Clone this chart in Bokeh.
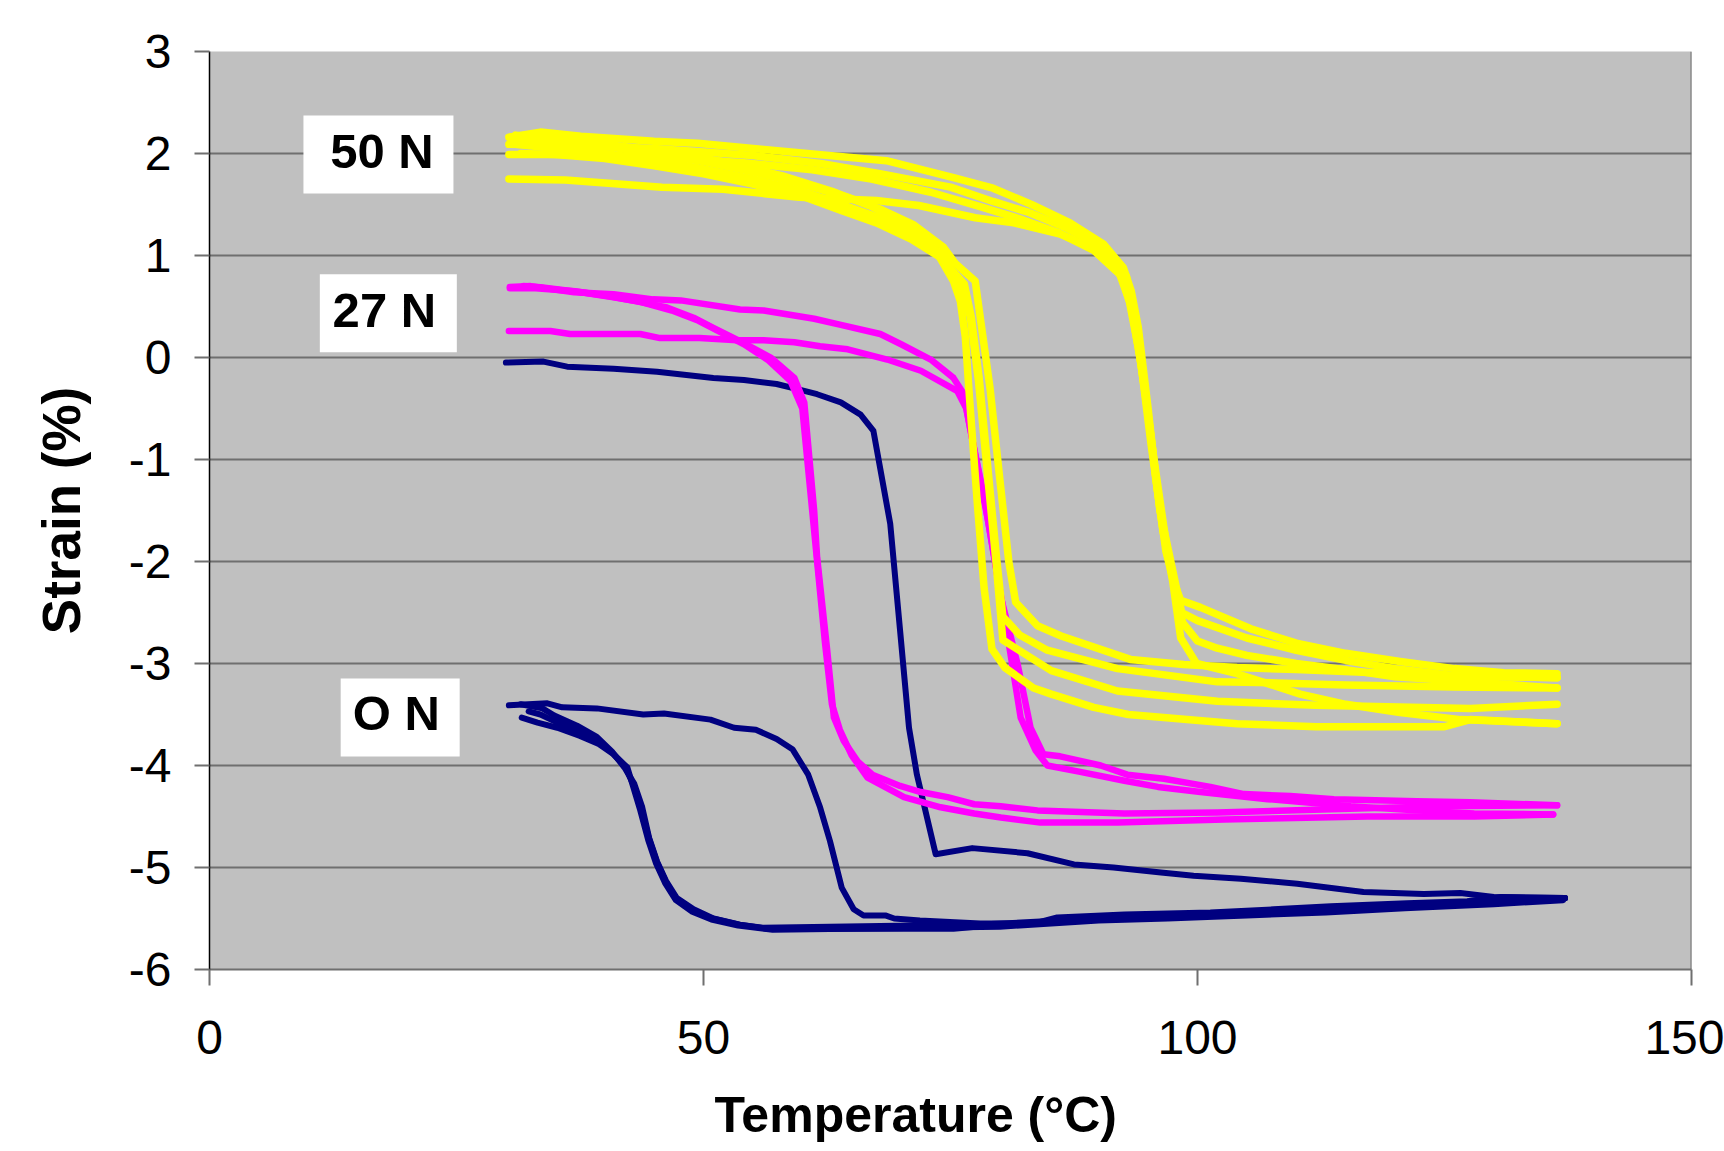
from bokeh.plotting import figure
from bokeh.models import Range1d, FixedTicker, Label, Span
from bokeh.embed import file_html
from bokeh.resources import INLINE

# ---------------- data ----------------
x_ticks = [0, 50, 100, 150]
y_ticks = [-6, -5, -4, -3, -2, -1, 0, 1, 2, 3]
y_tick_text = ["-6", "-5", "-4", "-3", "-2", "-1", "0", "1", "2", "3"]

# 0 N (navy)
n_heat1_t = [30.0, 33.8, 36.2, 40.9, 45.3, 51.0, 54.1, 57.4, 59.5, 61.5, 63.9, 65.9, 67.2, 68.9, 69.9,
             70.8, 71.6, 73.5, 77.2, 82.8, 87.5, 91.5, 96.3, 99.6, 104.4, 110.1, 116.8, 122.9, 126.6, 130.0, 137.2]
n_heat1_s = [-0.05, -0.04, -0.09, -0.11, -0.14, -0.20, -0.22, -0.26, -0.31, -0.36, -0.44, -0.56, -0.72, -1.63, -2.68,
             -3.63, -4.09, -4.87, -4.81, -4.86, -4.97, -5.00, -5.05, -5.08, -5.11, -5.16, -5.24, -5.26, -5.25, -5.29, -5.30]
n_heat2_t = [30.3, 34.2, 35.7, 39.2, 43.9, 46.0, 50.7, 53.1, 55.3, 57.4, 59.0, 60.6, 61.8, 62.8, 64.0,
             65.2, 66.2, 68.4, 69.3, 71.9, 78.0, 83.4, 85.8, 92.6, 101.3, 107.7, 113.5, 121.2, 127.3, 130.7, 137.2]
n_heat2_s = [-3.41, -3.39, -3.43, -3.44, -3.50, -3.49, -3.55, -3.63, -3.65, -3.74, -3.84, -4.09, -4.41, -4.74, -5.20,
             -5.41, -5.47, -5.47, -5.50, -5.52, -5.55, -5.55, -5.49, -5.46, -5.44, -5.41, -5.38, -5.35, -5.33, -5.29, -5.30]
n_cool1_t = [137.2, 130.7, 127.3, 121.2, 113.5, 107.7, 101.3, 92.6, 85.8, 80.1, 75.3, 56.4, 53.7, 51.0,
             49.0, 47.3, 46.2, 45.3, 44.5, 43.8, 43.0, 42.0, 40.8, 39.2, 37.2, 34.9, 33.7, 31.5]
n_cool1_s = [-5.30, -5.33, -5.36, -5.38, -5.42, -5.44, -5.47, -5.50, -5.53, -5.56, -5.60, -5.60, -5.56, -5.50,
             -5.41, -5.30, -5.13, -4.94, -4.71, -4.41, -4.18, -4.02, -3.87, -3.72, -3.61, -3.51, -3.44, -3.40]
n_cool2_t = [137.0, 130.0, 121.0, 113.0, 105.0, 97.0, 90.0, 80.0, 57.0, 53.5, 50.8, 48.8,
             47.2, 46.1, 45.2, 44.4, 43.6, 42.3, 40.9, 39.4, 37.5, 35.2, 33.2, 31.6]
n_cool2_s = [-5.32, -5.36, -5.40, -5.44, -5.47, -5.50, -5.52, -5.58, -5.61, -5.57, -5.51, -5.43,
             -5.32, -5.15, -4.96, -4.73, -4.44, -4.02, -3.89, -3.79, -3.71, -3.63, -3.58, -3.53]
n_cool3_t = [136.8, 128.0, 118.0, 108.0, 98.0, 88.0, 78.0, 56.0, 53.6, 50.9, 48.9, 47.2,
             46.2, 45.3, 44.5, 43.7, 42.9, 42.1, 40.8, 39.3, 37.3, 35.0, 33.5, 32.3]
n_cool3_s = [-5.31, -5.34, -5.38, -5.43, -5.47, -5.51, -5.56, -5.59, -5.56, -5.50, -5.42, -5.31,
             -5.14, -4.95, -4.72, -4.43, -4.19, -4.02, -3.88, -3.76, -3.66, -3.57, -3.50, -3.47]

# 27 N (magenta)
m_heat1_t = [30.4, 32.5, 36.9, 40.9, 44.9, 47.7, 53.7, 56.1, 61.2, 63.9, 67.9, 70.0, 73.0, 75.3, 76.3, 77.2,
             78.4, 80.1, 81.8, 83.1, 84.4, 86.1, 90.2, 92.9, 96.6, 101.3, 104.7, 109.4, 113.8, 122.2, 127.6, 136.4]
m_heat1_s = [0.69, 0.70, 0.64, 0.62, 0.57, 0.56, 0.47, 0.46, 0.38, 0.32, 0.23, 0.13, -0.02, -0.20, -0.35, -0.80,
             -1.37, -2.35, -3.01, -3.63, -3.89, -3.91, -4.00, -4.09, -4.13, -4.21, -4.28, -4.30, -4.33, -4.35, -4.36, -4.39]
m_heat2_t = [30.3, 34.5, 36.5, 43.6, 45.6, 49.6, 53.4, 56.1, 59.2, 61.8, 64.6, 68.6, 72.0, 75.7, 76.6,
             77.6, 78.8, 80.4, 82.1, 83.6, 84.8, 88.0, 92.6, 96.0, 100.3, 107.1, 115.5, 122.0, 128.0, 136.0]
m_heat2_s = [0.26, 0.26, 0.23, 0.23, 0.19, 0.19, 0.17, 0.17, 0.15, 0.11, 0.08, -0.02, -0.13, -0.33, -0.50,
             -1.00, -1.60, -2.50, -3.53, -3.85, -4.00, -4.06, -4.15, -4.21, -4.26, -4.33, -4.40, -4.44, -4.47, -4.48]
m_cool1_t = [136.4, 125.0, 117.2, 102.0, 92.6, 83.8, 80.1, 77.4, 74.7, 72.0, 69.9, 67.1, 65.6, 64.2, 63.2,
             62.5, 61.5, 61.2, 60.2, 59.2, 56.8, 53.7, 51.0, 49.0, 46.3, 43.3, 40.9, 37.6, 33.5, 31.8]
m_cool1_s = [-4.39, -4.40, -4.42, -4.46, -4.47, -4.44, -4.40, -4.38, -4.31, -4.26, -4.20, -4.09, -3.96, -3.76, -3.53,
             -2.85, -1.96, -1.50, -0.44, -0.20, 0.00, 0.16, 0.29, 0.39, 0.49, 0.55, 0.59, 0.64, 0.69, 0.70]
m_cool2_t = [136.0, 128.0, 117.2, 102.7, 91.9, 84.1, 80.1, 77.4, 74.0, 70.3, 66.6, 65.0, 63.8, 63.0, 62.3,
             61.4, 60.9, 60.0, 58.8, 56.6, 54.1, 52.1, 49.5, 46.8, 43.8, 40.5, 37.0, 33.0, 30.4]
m_cool2_s = [-4.48, -4.50, -4.50, -4.53, -4.56, -4.56, -4.51, -4.47, -4.41, -4.31, -4.12, -3.90, -3.65, -3.40, -2.80,
             -1.90, -1.40, -0.50, -0.23, -0.03, 0.13, 0.23, 0.36, 0.46, 0.54, 0.60, 0.65, 0.68, 0.68]

# 50 N (yellow)
y_heat1_t = [30.3, 33.5, 37.6, 45.0, 49.4, 56.1, 63.8, 68.5, 75.4, 79.3, 83.2, 87.1, 90.5, 92.5, 93.3,
             94.0, 95.0, 95.8, 96.8, 97.6, 98.3, 100.3, 105.4, 110.0, 115.0, 120.5, 126.0, 131.0, 136.4]
y_heat1_s = [2.16, 2.21, 2.17, 2.12, 2.10, 2.04, 1.97, 1.93, 1.76, 1.66, 1.50, 1.32, 1.11, 0.88, 0.65,
             0.30, -0.50, -1.20, -1.90, -2.20, -2.38, -2.45, -2.66, -2.80, -2.90, -2.98, -3.05, -3.09, -3.10]
y_heat2_t = [30.3, 36.0, 45.0, 55.0, 62.0, 68.0, 75.0, 79.3, 83.0, 86.5, 90.0, 92.8,
             93.6, 95.2, 96.2, 97.3, 98.4, 100.0, 105.0, 110.0, 115.0, 120.0, 126.0, 136.4]
y_heat2_s = [2.09, 2.08, 2.05, 1.98, 1.90, 1.80, 1.67, 1.53, 1.42, 1.28, 1.10, 0.80,
             0.40, -0.70, -1.50, -2.00, -2.50, -2.58, -2.75, -2.87, -2.97, -3.05, -3.12, -3.14]
y_heat3_t = [30.3, 36.0, 45.8, 52.0, 59.7, 67.5, 71.8, 77.5, 81.4, 86.1, 89.2, 92.0, 93.3,
             94.5, 95.6, 96.8, 97.8, 98.5, 100.0, 102.0, 105.0, 110.0, 115.0, 120.0, 126.0, 136.4]
y_heat3_s = [1.75, 1.74, 1.67, 1.65, 1.57, 1.54, 1.49, 1.37, 1.32, 1.21, 1.08, 0.85, 0.50,
             -0.20, -1.00, -1.80, -2.30, -2.60, -2.78, -2.85, -2.92, -3.00, -3.06, -3.13, -3.17, -3.24]
y_heat4_t = [30.3, 38.0, 46.0, 54.0, 61.0, 67.0, 73.0, 78.0, 82.0, 86.0, 89.5, 92.3, 93.1,
             94.2, 95.3, 96.5, 97.5, 98.3, 99.9, 104.0, 110.4, 115.0, 120.5, 126.6, 136.4]
y_heat4_s = [1.99, 1.99, 1.96, 1.91, 1.84, 1.75, 1.62, 1.48, 1.36, 1.22, 1.05, 0.80, 0.55,
             0.00, -0.85, -1.70, -2.20, -2.75, -3.00, -3.10, -3.30, -3.40, -3.48, -3.55, -3.59]
y_cool1_t = [136.4, 126.0, 118.0, 110.0, 104.0, 98.6, 93.2, 86.2, 83.8, 81.6, 80.9, 80.0, 79.0, 78.0,
             77.5, 75.5, 74.3, 71.3, 68.0, 64.6, 60.0, 55.0, 50.0, 45.0, 40.0, 35.0, 31.0]
y_cool1_s = [-3.14, -3.12, -3.09, -3.06, -3.04, -3.01, -2.96, -2.73, -2.63, -2.40, -2.00, -1.20, -0.30, 0.40,
             0.75, 0.92, 1.08, 1.30, 1.45, 1.57, 1.70, 1.82, 1.92, 2.00, 2.07, 2.13, 2.18]
y_cool2_t = [136.4, 126.0, 115.0, 108.0, 102.0, 91.9, 84.8, 82.0, 80.3, 79.7, 78.8, 77.9, 77.1,
             76.4, 74.0, 71.0, 67.5, 64.0, 60.0, 55.0, 50.0, 45.0, 40.0, 35.0, 31.5]
y_cool2_s = [-3.24, -3.23, -3.21, -3.19, -3.18, -3.05, -2.87, -2.72, -2.54, -2.00, -1.10, -0.20, 0.40,
             0.72, 0.98, 1.16, 1.32, 1.44, 1.58, 1.70, 1.80, 1.88, 1.95, 1.99, 2.00]
y_cool3_t = [136.4, 127.6, 112.0, 102.0, 91.9, 85.2, 80.3, 79.6, 78.7, 77.8, 77.0, 76.0,
             74.0, 71.0, 67.5, 64.0, 60.0, 55.0, 50.0, 45.0, 40.0, 35.0, 31.0]
y_cool3_s = [-3.40, -3.44, -3.41, -3.37, -3.27, -3.07, -2.77, -2.00, -1.10, -0.20, 0.40, 0.72,
             1.02, 1.22, 1.38, 1.50, 1.63, 1.75, 1.85, 1.93, 2.00, 2.05, 2.09]
y_cool4_t = [136.4, 127.6, 125.0, 112.0, 104.0, 93.0, 89.5, 85.2, 83.4, 80.5, 79.2, 78.4, 77.7, 77.0,
             76.5, 76.0, 75.3, 73.5, 70.5, 67.0, 63.0, 58.0, 52.0, 46.0, 40.0, 35.0, 30.5]
y_cool4_s = [-3.59, -3.55, -3.62, -3.62, -3.59, -3.50, -3.43, -3.30, -3.24, -3.04, -2.86, -2.26, -1.41, -0.50,
             0.20, 0.55, 0.75, 1.05, 1.30, 1.48, 1.63, 1.78, 1.92, 2.02, 2.09, 2.14, 2.16]

load_labels = ["50 N", "27 N", "O N"]

# ---------------- figure ----------------
FONT = "Liberation Sans"
GRID = "#6F6F6F"

p = figure(width=1724, height=1151, output_backend="svg", toolbar_location=None,
           x_range=Range1d(0, 150), y_range=Range1d(-6, 3),
           min_border_left=209, min_border_right=33, min_border_top=51, min_border_bottom=182)
p.background_fill_color = "#C0C0C0"
p.border_fill_color = "white"
p.outline_line_color = None

p.xgrid.visible = False
p.ygrid.grid_line_color = GRID
p.ygrid.grid_line_width = 2

p.xaxis.ticker = FixedTicker(ticks=x_ticks)
p.yaxis.ticker = FixedTicker(ticks=y_ticks)
p.yaxis.major_label_overrides = {v: t for v, t in zip(y_ticks, y_tick_text)}
for ax in (p.xaxis, p.yaxis):
    ax.major_label_text_font = FONT
    ax.major_label_text_font_size = "48px"
    ax.major_label_text_color = "black"
    ax.major_tick_in = 0
    ax.minor_tick_out = 0
    ax.minor_tick_in = 0
    ax.major_tick_line_color = GRID
    ax.major_tick_line_width = 2
    ax.axis_label_text_font = FONT
    ax.axis_label_text_font_style = "bold"
    ax.axis_label_text_color = "black"

p.xaxis.major_tick_out = 16
p.xaxis.major_label_standoff = 35
p.xaxis.axis_line_color = GRID
p.xaxis.axis_line_width = 2
# trailing no-break spaces shift the centred title slightly left, as in the original
p.xaxis.axis_label = "Temperature (°C)" + "\u00a0" * 5
p.xaxis.axis_label_text_font_size = "50px"
p.xaxis.axis_label_standoff = 30

p.yaxis.major_tick_out = 15
p.yaxis.major_label_standoff = 23
p.yaxis.axis_line_color = "black"
p.yaxis.axis_line_width = 1.5
p.yaxis.axis_label = "Strain (%)"
p.yaxis.axis_label_text_font_size = "53px"
p.yaxis.axis_label_standoff = 35

p.add_layout(Span(location=150, dimension="height", line_color=GRID, line_width=2))

# curves
def draw(t, s, color, w):
    p.line(t, s, line_color=color, line_width=w, line_cap="round", line_join="round")

NAVY, MAG, YEL = "#000080", "#FF00FF", "#FFFF00"
for t, s in [(n_heat1_t, n_heat1_s), (n_heat2_t, n_heat2_s), (n_cool1_t, n_cool1_s),
             (n_cool2_t, n_cool2_s), (n_cool3_t, n_cool3_s)]:
    draw(t, s, NAVY, 6)
for t, s in [(m_heat1_t, m_heat1_s), (m_heat2_t, m_heat2_s), (m_cool1_t, m_cool1_s), (m_cool2_t, m_cool2_s)]:
    draw(t, s, MAG, 6.5)
for t, s in [(y_heat1_t, y_heat1_s), (y_heat2_t, y_heat2_s), (y_heat3_t, y_heat3_s), (y_heat4_t, y_heat4_s),
             (y_cool1_t, y_cool1_s), (y_cool2_t, y_cool2_s), (y_cool3_t, y_cool3_s), (y_cool4_t, y_cool4_s)]:
    draw(t, s, YEL, 7.5)

# label boxes (annotation positions)
box_x = [17.1, 18.1, 19.3]
box_y = [1.99, 0.435, -3.53]
box_w = [150, 137, 119]
box_h = [78, 78, 78]
p.rect(x=box_x, y=box_y, width=box_w, height=box_h, width_units="screen", height_units="screen",
       fill_color="white", line_color=None)
txt_x = [17.45, 17.7, 18.9]
txt_y = [2.025, 0.465, -3.488]
for lab, tx, ty in zip(load_labels, txt_x, txt_y):
    p.add_layout(Label(x=tx, y=ty, text=lab, text_align="center", text_baseline="middle",
                       text_font=FONT, text_font_style="bold", text_font_size="49px", text_color="black"))

open("out.html", "w").write(file_html(p, INLINE))
